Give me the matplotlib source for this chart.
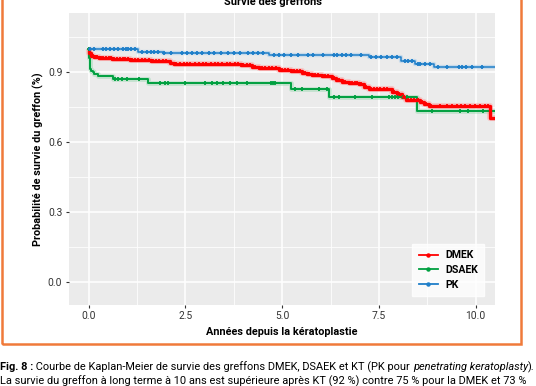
import matplotlib
matplotlib.use('Agg')
import matplotlib.pyplot as plt
import numpy as np
from matplotlib.patches import Rectangle
from matplotlib.lines import Line2D

plt.rcParams['font.family'] = ['Roboto', 'DejaVu Sans']

# ---------------- data ----------------
groups = ['DMEK', 'DSAEK', 'PK']

dmek_times = [0.0, 0.01, 0.05, 0.15, 0.28, 0.6, 1.06, 1.6, 2.09, 2.2, 3.93, 4.23, 4.4,
              4.92, 5.22, 5.52, 5.64, 5.77, 6.03, 6.29, 6.39, 6.55, 6.73, 6.98, 7.11,
              7.24, 7.84, 7.97, 8.1, 8.19, 8.57, 8.66, 8.79, 10.38]
dmek_surv = [1.0, 0.982, 0.971, 0.965, 0.961, 0.957, 0.952, 0.947, 0.940, 0.936, 0.933,
             0.925, 0.919, 0.911, 0.907, 0.897, 0.893, 0.890, 0.883, 0.876, 0.868, 0.858,
             0.855, 0.851, 0.836, 0.829, 0.815, 0.808, 0.794, 0.783, 0.773, 0.766, 0.754,
             0.703]
dmek_censor = [0.03, 0.08, 0.12, 0.18, 0.22, 0.33, 0.37, 0.45, 0.52, 0.58, 0.66, 0.73,
               0.81, 0.88, 0.95, 1.02, 1.12, 1.2, 1.28, 1.37, 1.45, 1.55, 1.66, 1.74,
               1.83, 1.92, 2.0, 2.14, 2.27, 2.35, 2.46, 2.55, 2.63, 2.74, 2.86, 2.95,
               3.04, 3.15, 3.26, 3.34, 3.45, 3.57, 3.66, 3.78, 3.86, 4.0, 4.1, 4.17,
               4.31, 4.48, 4.57, 4.66, 4.75, 4.84, 5.0, 5.08, 5.15, 5.3, 5.38, 5.45,
               5.58, 5.7, 5.84, 5.92, 6.1, 6.18, 6.35, 6.47, 6.62, 6.8, 6.87, 6.93,
               7.05, 7.17, 7.3, 7.38, 7.45, 7.53, 7.62, 7.7, 7.9, 8.03, 8.14, 8.25,
               8.33, 8.42, 8.5, 8.62, 8.72, 8.85, 9.08, 9.26, 9.38, 9.51, 9.62, 9.73,
               9.86, 9.99, 10.12, 10.25, 10.33]

dsaek_times = [0.0, 0.02, 0.03, 0.06, 0.11, 0.15, 0.24, 0.63, 1.53, 5.22, 6.21, 8.49]
dsaek_surv = [1.0, 0.96, 0.914, 0.907, 0.900, 0.893, 0.886, 0.872, 0.853, 0.829, 0.794,
              0.734]
dsaek_censor = [0.01, 0.68, 0.77, 0.86, 0.99, 1.3, 1.85, 1.98, 2.06, 2.49, 3.01, 3.18,
                3.31, 3.48, 3.66, 3.83, 4.09, 4.7, 4.76, 4.82, 5.34, 5.51, 5.94, 6.15,
                6.33, 6.46, 6.89, 7.32, 7.75, 7.83, 7.92, 8.0, 8.13, 8.22, 8.87, 9.6,
                9.81, 10.2]

pk_times = [0.0, 1.27, 1.91, 4.66, 7.24, 8.06, 8.43, 8.92]
pk_surv = [1.0, 0.989, 0.984, 0.975, 0.964, 0.950, 0.936, 0.923]
pk_censor = [0.03, 0.14, 0.36, 0.45, 0.54, 0.65, 0.76, 0.89, 0.96, 1.03, 1.1, 1.2, 1.38,
             1.51, 1.6, 1.69, 1.78, 1.95, 2.13, 2.4, 2.53, 2.66, 2.79, 2.93, 3.1, 3.23,
             3.41, 3.59, 3.76, 3.9, 4.12, 4.25, 4.38, 4.51, 4.78, 4.91, 5.05, 5.22, 5.4,
             5.66, 5.8, 6.06, 6.33, 6.42, 6.55, 6.64, 6.77, 7.03, 7.3, 7.43, 7.56, 7.7,
             7.83, 7.96, 8.18, 8.26, 8.35, 8.52, 8.57, 8.7, 8.81, 9.04, 9.27, 9.56,
             9.64, 9.75, 9.9, 10.16]

x_ticks = [0.0, 2.5, 5.0, 7.5, 10.0]
x_ticklabels = ['0.0', '2.5', '5.0', '7.5', '10.0']
y_ticks = [0.0, 0.3, 0.6, 0.9]
y_ticklabels = ['0.0', '0.3', '0.6', '0.9']

title = 'Survie des greffons'
xlabel = 'Années depuis la kératoplastie'
ylabel = 'Probabilité de survie du greffon (%)'

# ---------------- styling ----------------
colors = {'DMEK': '#ff0000', 'DSAEK': '#00a040', 'PK': '#1f7fc9'}
halo = {'DMEK': '#ff9a9a', 'DSAEK': '#8fd6a8', 'PK': '#9cc6ea'}
lws = {'DMEK': 2.4, 'DSAEK': 1.4, 'PK': 1.1}
series = {
    'DMEK': (dmek_times, dmek_surv, dmek_censor),
    'DSAEK': (dsaek_times, dsaek_surv, dsaek_censor),
    'PK': (pk_times, pk_surv, pk_censor),
}
X_END = 10.6


def surv_at(t, times, surv):
    idx = np.searchsorted(np.asarray(times), np.asarray(t), side='right') - 1
    return np.asarray(surv)[idx]


fig = plt.figure(figsize=(5.36, 3.86), dpi=100)
ax = fig.add_axes([0.1278, 0.2098, 0.7957, 0.7557])
ax.set_facecolor('#ebebeb')
for s in ax.spines.values():
    s.set_visible(False)

ax.set_xlim(-0.52, 10.5)
ax.set_ylim(-0.097, 1.153)
ax.set_xticks(x_ticks)
ax.set_xticklabels(x_ticklabels)
ax.set_yticks(y_ticks)
ax.set_yticklabels(y_ticklabels)
ax.set_xticks([1.25, 3.75, 6.25, 8.75], minor=True)
ax.set_yticks([0.15, 0.45, 0.75, 1.05], minor=True)
ax.grid(which='major', color='white', lw=1.1)
ax.grid(which='minor', color='white', lw=0.55)
ax.set_axisbelow(True)
ax.tick_params(which='major', length=2.5, width=0.8, color='#333333',
               labelsize=7.4, labelcolor='#333333', pad=2)
ax.tick_params(which='minor', length=0)

for g in ['DSAEK', 'PK', 'DMEK']:
    t, s, c = series[g]
    tt = list(t) + [X_END]
    ss = list(s) + [s[-1]]
    ax.step(tt, ss, where='post', color=halo[g], lw=lws[g] + 2.0, alpha=0.45,
            solid_capstyle='butt', zorder=2)
for g in ['DSAEK', 'PK', 'DMEK']:
    t, s, c = series[g]
    tt = list(t) + [X_END]
    ss = list(s) + [s[-1]]
    ax.step(tt, ss, where='post', color=colors[g], lw=lws[g], zorder=3)
    ax.plot(c, surv_at(c, t, s), ls='none', marker='+', ms=3.5, mew=1.3,
            color=colors[g], zorder=4)

ax.set_xlabel(xlabel, fontsize=7.8, fontweight='bold', labelpad=4)
ax.set_ylabel(ylabel, fontsize=7.8, fontweight='bold', labelpad=3)

handles = [Line2D([0], [0], color=colors[g], lw=1.3, marker='o', ms=2.2) for g in groups]
leg = ax.legend(handles, groups, loc='lower right', bbox_to_anchor=(0.975, 0.03),
                frameon=True, fancybox=False, fontsize=7.6, handlelength=1.8,
                handletextpad=0.7, borderpad=0.6, labelspacing=0.45,
                borderaxespad=0.0)
leg.get_frame().set_facecolor('white')
leg.get_frame().set_edgecolor('white')
for txt in leg.get_texts():
    txt.set_fontweight('bold')

fig.text(273.5 / 536, 1 - 5 / 386, title, ha='center', va='baseline', fontsize=8,
         fontweight='bold')

# orange frame (top edge lies above the picture)
fig.patches.append(Rectangle((1.5 / 536, 1 - 344 / 386), (521 - 1.5) / 536, 1.0,
                             transform=fig.transFigure, fill=False, edgecolor='#f07a3a',
                             lw=1.8, clip_on=False))

# caption with mixed styles
renderer = fig.canvas.get_renderer()


def write_line(parts, x0, y0, size):
    x = x0
    for txt, kw in parts:
        t = fig.text(x, y0, txt, fontsize=size, va='baseline', ha='left', **kw)
        bb = t.get_window_extent(renderer=renderer)
        x = x + bb.width / fig.bbox.width


cap_size = 7.9
write_line([('Fig. 8 :', dict(fontweight='bold')),
            (' Courbe de Kaplan-Meier de survie des greffons DMEK, DSAEK et KT (PK pour ', {}),
            ('penetrating keratoplasty', dict(style='italic')),
            (').', {})], 0.0, 1 - 370 / 386, cap_size)
write_line([('La survie du greffon à long terme à 10 ans est supérieure après KT (92 %) '
             'contre 75 % pour la DMEK et 73 %', {})], 0.0, 1 - 384 / 386, cap_size)

fig.savefig('out.png', dpi=100)
